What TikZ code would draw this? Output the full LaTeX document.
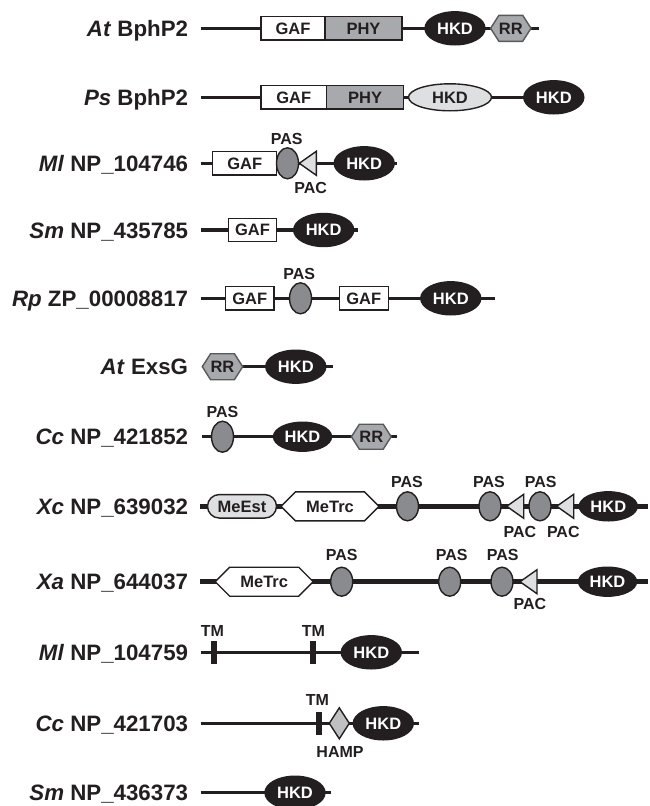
\documentclass[tikz,border=0pt]{standalone}
\usepackage{fontspec}
\setmainfont{Liberation Sans}
\usepackage{tikz}
\usetikzlibrary{shapes.geometric, shapes.misc, shapes.symbols, positioning}
\definecolor{darkline}{RGB}{35,31,32}
\definecolor{pasgray}{RGB}{138,139,143}
\definecolor{phygray}{RGB}{167,169,172}
\definecolor{palegray}{RGB}{222,223,224}
\definecolor{hampgray}{RGB}{190,192,194}
\definecolor{rredge}{RGB}{88,89,91}

\begin{document}
\begin{tikzpicture}[x=1pt, y=-1pt,
    protein/.style={anchor=east, inner sep=0pt, text=darkline, text height=16pt, text depth=0pt,
                    font=\fontsize{22.3}{23}\selectfont\bfseries},
    chain/.style={draw=darkline, line width=3.3pt},
    fatchain/.style={draw=darkline, line width=5.5pt},
    dom/.style={draw=darkline, line width=1.4pt, inner sep=0pt, outer sep=0pt, text=darkline,
                text height=11.8pt, text depth=0pt, font=\fontsize{16.5}{17}\selectfont\bfseries},
    gafbox/.style={dom, rectangle, fill=white, minimum height=23.5pt},
    phybox/.style={dom, rectangle, fill=phygray, minimum height=23.5pt, minimum width=77pt},
    hkd/.style={dom, ellipse, fill=darkline, text=white, minimum width=60pt, minimum height=33pt},
    hkdpale/.style={dom, ellipse, fill=palegray, minimum width=83pt, minimum height=27pt},
    pas/.style={dom, ellipse, fill=pasgray, minimum width=22pt, minimum height=31pt},
    pac/.style={dom, isosceles triangle, isosceles triangle stretches, shape border rotate=180,
                fill=palegray, minimum width=24pt, minimum height=17pt, anchor=apex},
    rr/.style={dom, signal, signal to=west and east, signal pointer angle=115, fill=phygray,
               draw=rredge, minimum width=35pt, minimum height=26pt},
    metrc/.style={dom, signal, signal to=west and east, signal pointer angle=90, fill=white,
                  minimum width=98pt, minimum height=29pt},
    meest/.style={dom, rounded rectangle, fill=palegray, minimum width=69pt, minimum height=23.5pt},
    tm/.style={rectangle, fill=darkline, inner sep=0pt, minimum width=6pt, minimum height=23.5pt},
    hamp/.style={dom, diamond, fill=hampgray, minimum width=20pt, minimum height=31pt},
    tag/.style={inner sep=0pt, text=darkline, text height=11.5pt, text depth=0pt,
                font=\fontsize{16}{17}\selectfont\bfseries}]
\useasboundingbox (0,0) rectangle (649,806);

% At BphP2
\coordinate (s1) at (200.7,28.3);
\coordinate (e1) at (539,28.3);
\draw[chain] (s1) -- (e1);
\node[protein] (p1) at (188.3,28.3) {\textit{At} BphP2};
\node[gafbox, minimum width=64pt] (gaf1) at (293,28.3) {GAF};
\node[phybox, right=0pt of gaf1] (phy1) {PHY};
\node[hkd] (hkd1) at (455,28.3) {HKD};
\node[rr] (rr1) at (510.8,28.3) {RR};

% Ps BphP2
\coordinate (s2) at (200.7,97.3);
\coordinate (e2) at (553,97.3);
\draw[chain] (s2) -- (e2);
\node[protein] (p2) at (188.3,97.3) {\textit{Ps} BphP2};
\node[gafbox, minimum width=65.7pt] (gaf2) at (293.8,97.3) {GAF};
\node[phybox, right=0pt of gaf2] (phy2) {PHY};
\node[hkdpale] (hkd2a) at (450,97.3) {HKD};
\node[hkd] (hkd2b) at (553.8,97.3) {HKD};

% Ml NP_104746
\coordinate (s3) at (200.7,163.3);
\coordinate (e3) at (397.3,163.3);
\draw[chain] (s3) -- (e3);
\node[protein] (p3) at (188.3,163.3) {\textit{Ml} NP\_104746};
\node[gafbox, minimum width=64pt] (gaf3) at (244.7,163.3) {GAF};
\node[pas] (pas3) at (287.5,163.3) {};
\node[tag] at (286.7,138.3) {PAS};
\node[pac] (pac3) at (299.3,163.3) {};
\node[tag] at (310.7,187.3) {PAC};
\node[hkd] (hkd3) at (364.2,163.3) {HKD};

% Sm NP_435785
\coordinate (s4) at (200.7,230);
\coordinate (e4) at (358.3,230);
\draw[chain] (s4) -- (e4);
\node[protein] (p4) at (188.3,230) {\textit{Sm} NP\_435785};
\node[gafbox, minimum width=48.4pt] (gaf4) at (252.5,230) {GAF};
\node[hkd] (hkd4) at (323.7,230) {HKD};

% Rp ZP_00008817
\coordinate (s5) at (200.7,298.3);
\coordinate (e5) at (495,298.3);
\draw[chain] (s5) -- (e5);
\node[protein] (p5) at (188.3,298.3) {\textit{Rp} ZP\_00008817};
\node[gafbox, minimum width=48.3pt] (gaf5a) at (249.8,298.3) {GAF};
\node[pas] (pas5) at (300.5,298.3) {};
\node[tag] at (299.3,273.3) {PAS};
\node[gafbox, minimum width=49pt] (gaf5b) at (363.8,298.3) {GAF};
\node[hkd] (hkd5) at (450.8,298.3) {HKD};

% At ExsG
\coordinate (s6) at (201.7,366.7);
\coordinate (e6) at (332.7,366.7);
\draw[chain] (s6) -- (e6);
\node[protein] (p6) at (188.3,366.7) {\textit{At} ExsG};
\node[rr] (rr6) at (222.5,366.7) {RR};
\node[hkd] (hkd6) at (295.8,366.7) {HKD};

% Cc NP_421852
\coordinate (s7) at (201.7,436.7);
\coordinate (e7) at (396.7,436.7);
\draw[chain] (s7) -- (e7);
\node[protein] (p7) at (188.3,436.7) {\textit{Cc} NP\_421852};
\node[pas] (pas7) at (222.5,436.7) {};
\node[tag] at (222.5,411.7) {PAS};
\node[hkd, minimum height=29pt, minimum width=58pt] (hkd7) at (302.5,436.7) {HKD};
\node[rr, minimum width=36pt, minimum height=25pt] (rr7) at (371.3,436.7) {RR};

% Xc NP_639032
\coordinate (s8) at (200,506.3);
\coordinate (e8) at (648,506.3);
\draw[fatchain] (s8) -- (e8);
\node[protein] (p8) at (188.3,506.3) {\textit{Xc} NP\_639032};
\node[meest] (meest8) at (242,506.3) {MeEst};
\node[metrc] (metrc8) at (330,506.3) {MeTrc};
\node[pas, minimum height=29pt] (pas8a) at (407.5,506.3) {};
\node[pas, minimum height=29pt] (pas8b) at (490,506.3) {};
\node[pac] (pac8a) at (506.7,506.3) {};
\node[pas, minimum height=29pt] (pas8c) at (540,506.3) {};
\node[pac] (pac8b) at (556.7,506.3) {};
\node[hkd, minimum height=29pt, minimum width=58pt] (hkd8) at (608.3,506.3) {HKD};
\node[tag] at (407,481.7) {PAS};
\node[tag] at (489,481.7) {PAS};
\node[tag] at (540.7,481.7) {PAS};
\node[tag] at (520,531.7) {PAC};
\node[tag] at (563.3,531.7) {PAC};

% Xa NP_644037
\coordinate (s9) at (200,581.7);
\coordinate (e9) at (648,581.7);
\draw[fatchain] (s9) -- (e9);
\node[protein] (p9) at (188.3,581.7) {\textit{Xa} NP\_644037};
\node[metrc] (metrc9) at (264.2,581.7) {MeTrc};
\node[pas, minimum height=29pt] (pas9a) at (341.7,581.7) {};
\node[pas, minimum height=29pt] (pas9b) at (449.7,581.7) {};
\node[pas, minimum height=29pt] (pas9c) at (502,581.7) {};
\node[pac] (pac9) at (520,581.7) {};
\node[hkd, minimum height=29pt, minimum width=58pt] (hkd9) at (607.5,581.7) {HKD};
\node[tag] at (341.7,555) {PAS};
\node[tag] at (451.7,555) {PAS};
\node[tag] at (502.7,555) {PAS};
\node[tag] at (530,603.3) {PAC};

% Ml NP_104759
\coordinate (s10) at (200.7,652.3);
\coordinate (e10) at (419.3,652.3);
\draw[chain] (s10) -- (e10);
\node[protein] (p10) at (188.3,652.3) {\textit{Ml} NP\_104759};
\node[tm] (tm10a) at (213.7,652.3) {};
\node[tm] (tm10b) at (313,652.3) {};
\node[tag] at (212.5,630.7) {TM};
\node[tag] at (313.3,630.7) {TM};
\node[hkd] (hkd10) at (371.3,652.3) {HKD};

% Cc NP_421703
\coordinate (s11) at (200.7,723.3);
\coordinate (e11) at (419.3,723.3);
\draw[chain] (s11) -- (e11);
\node[protein] (p11) at (188.3,723.3) {\textit{Cc} NP\_421703};
\node[tm] (tm11) at (319.3,723.3) {};
\node[tag] at (317.3,700) {TM};
\node[hamp] (hamp11) at (339.3,723.3) {};
\node[tag] at (340,751.7) {HAMP};
\node[hkd] (hkd11) at (383.3,723.3) {HKD};

% Sm NP_436373
\coordinate (s12) at (200.7,792.7);
\coordinate (e12) at (330.7,792.7);
\draw[chain] (s12) -- (e12);
\node[protein] (p12) at (188.3,792.7) {\textit{Sm} NP\_436373};
\node[hkd] (hkd12) at (295,792.7) {HKD};
\end{tikzpicture}
\end{document}
